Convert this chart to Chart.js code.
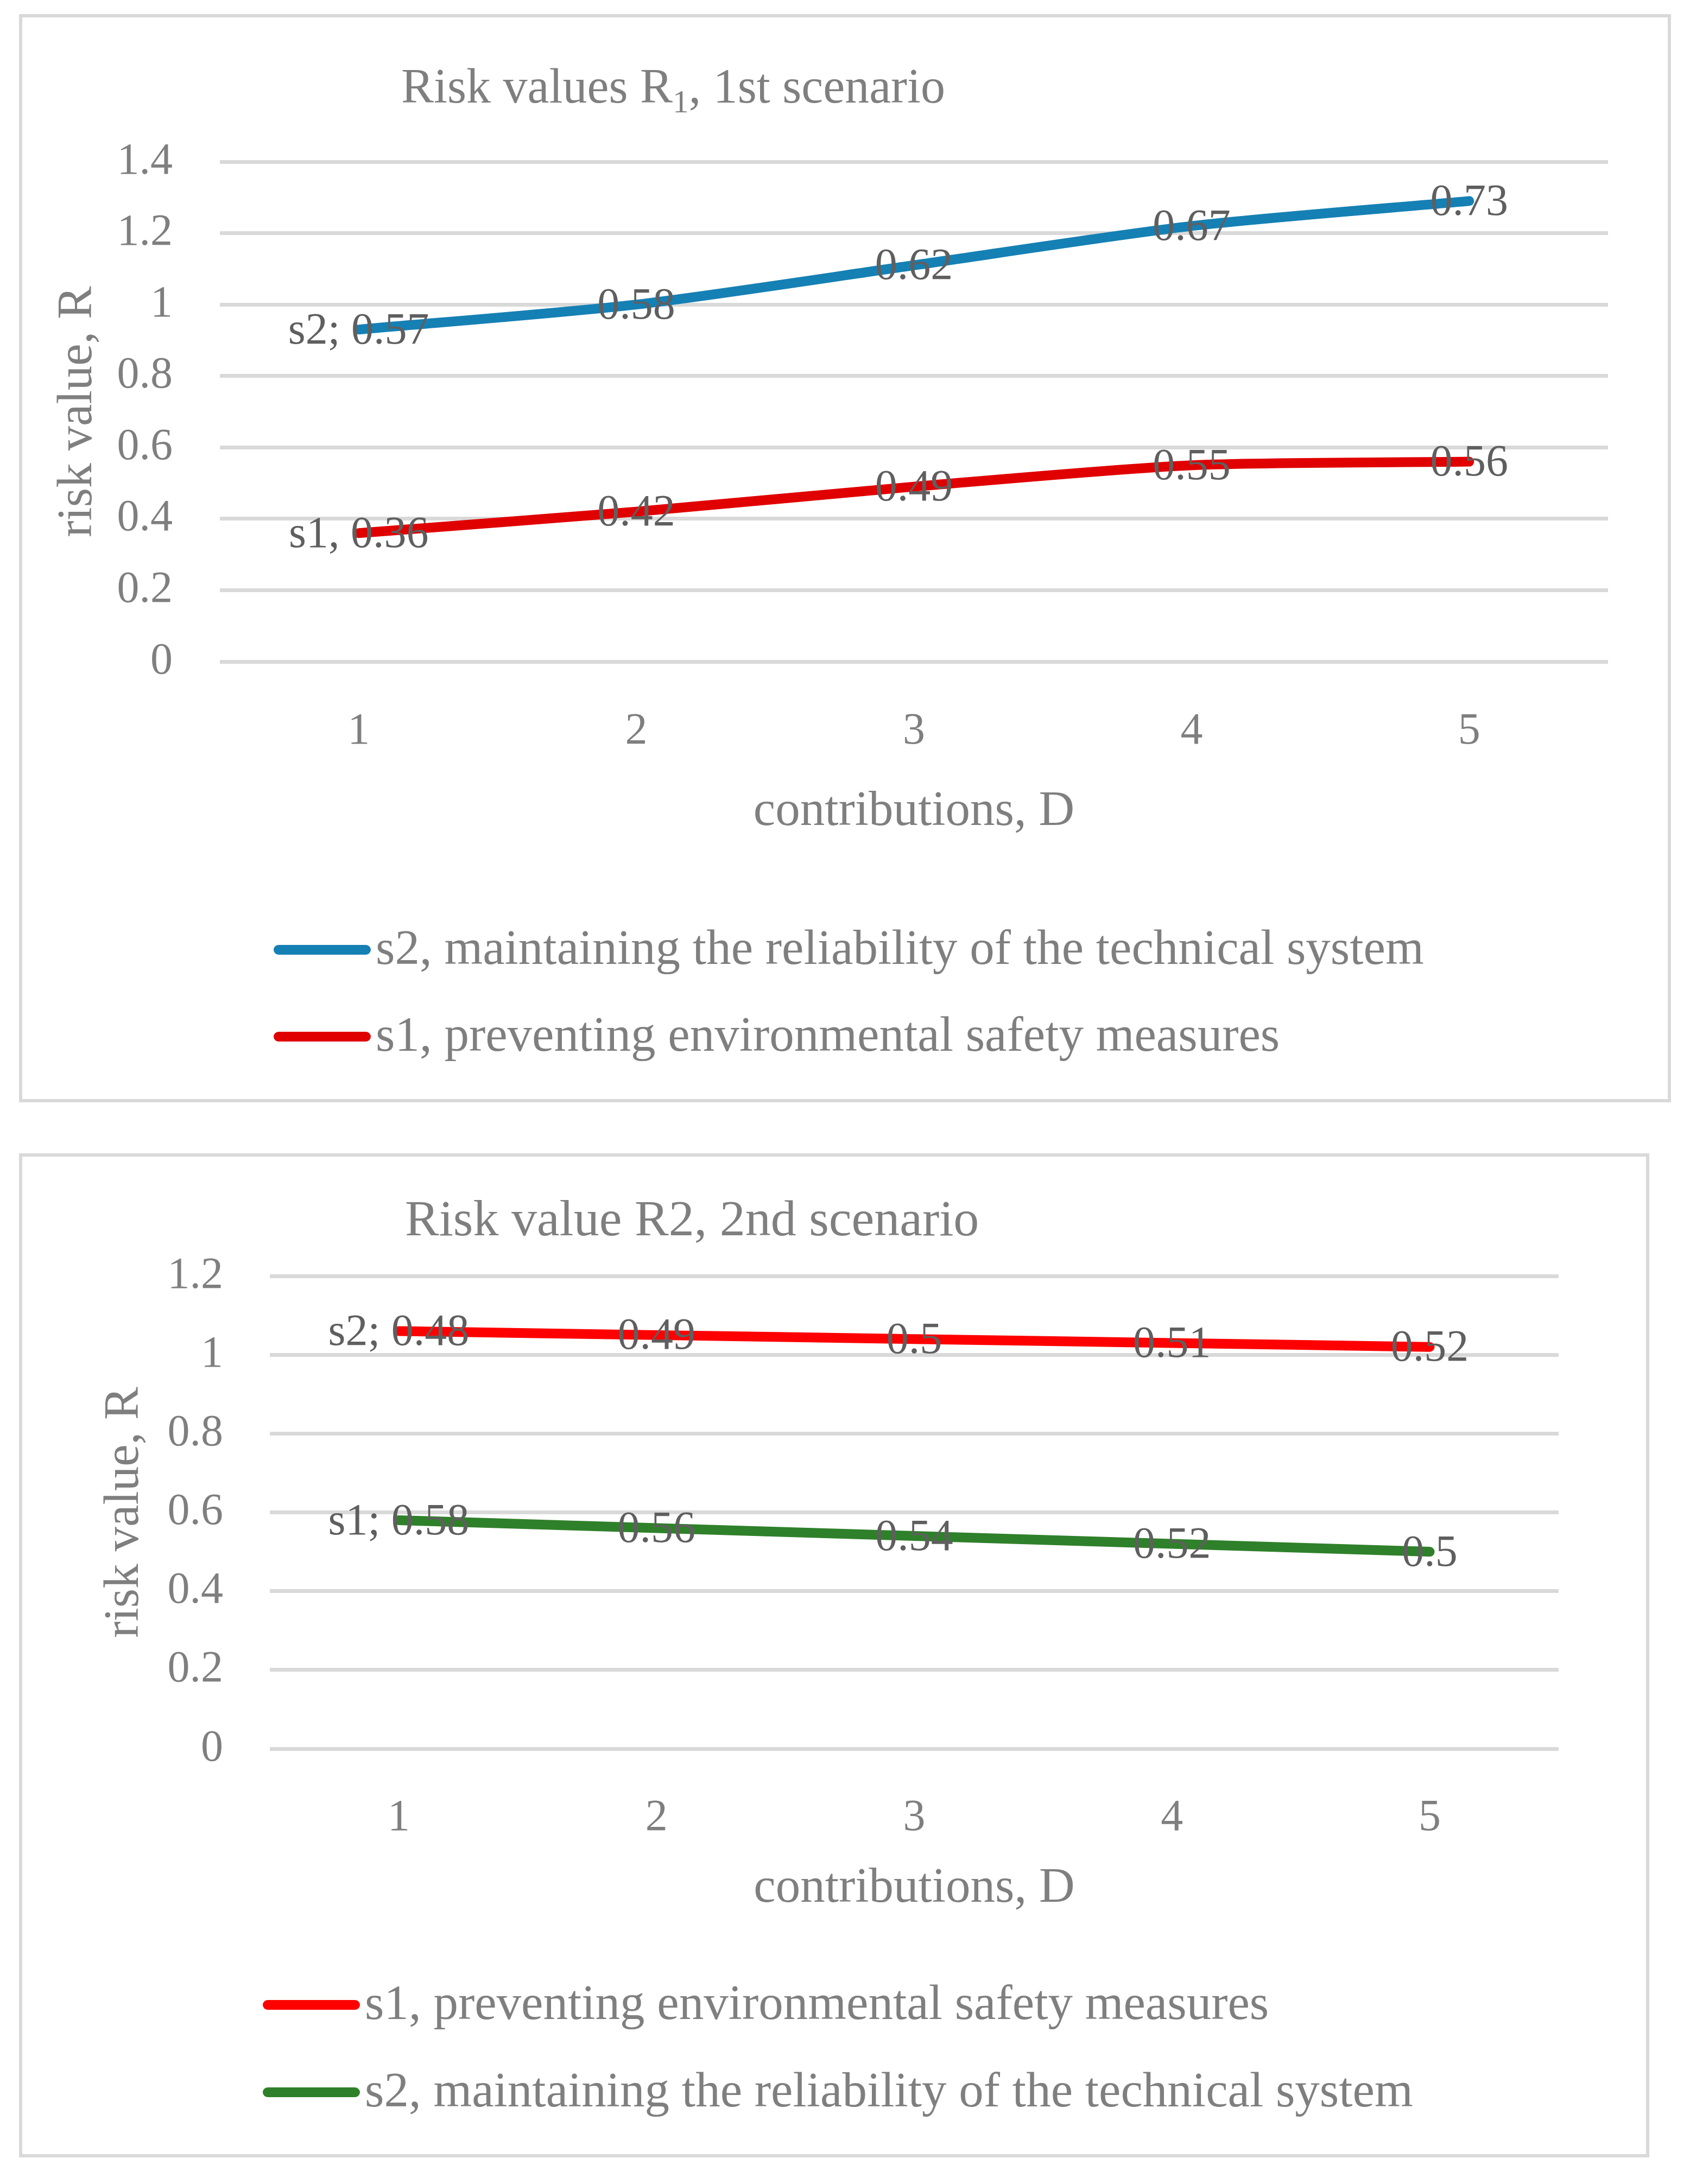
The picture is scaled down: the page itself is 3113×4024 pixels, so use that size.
<!DOCTYPE html>
<html>
<head>
<meta charset="utf-8">
<title>Risk values</title>
<script src="https://cdn.jsdelivr.net/npm/chart.js@4.4.1/dist/chart.umd.min.js"></script>
<style>
  html, body { margin: 0; padding: 0; background: #fff; }
  body { width: 3113px; height: 4024px; position: relative; }
  .box { position: absolute; border: 6px solid #d9d9d9; background: #fff; }
  .box canvas { display: block; }
</style>
</head>
<body>
<div class="box" style="left:35px;top:26px;width:3031px;height:1993px;">
  <canvas id="chart1" width="3031" height="1993"></canvas>
</div>
<div class="box" style="left:35px;top:2125px;width:2991px;height:1838px;">
  <canvas id="chart2" width="2991" height="1838"></canvas>
</div>
<script>
// ---- data ----
var categories = ["1", "2", "3", "4", "5"];

// 1st scenario (stacked: s2 sits on top of s1)
var sc1_s1 = [0.36, 0.42, 0.49, 0.55, 0.56];
var sc1_s2 = [0.57, 0.58, 0.62, 0.67, 0.73];
var sc1_yTicks = [0, 0.2, 0.4, 0.6, 0.8, 1, 1.2, 1.4];

// 2nd scenario (stacked: red sits on top of green)
var sc2_green = [0.58, 0.56, 0.54, 0.52, 0.5];
var sc2_red = [0.48, 0.49, 0.5, 0.51, 0.52];
var sc2_yTicks = [0, 0.2, 0.4, 0.6, 0.8, 1, 1.2];

var FONT = "'Liberation Serif', 'Times New Roman', serif";
var GREY = '#7f7f7f';
var LABEL_SIZE = 91; // axis titles + legend

// value labels centred on each point, first one carries the series prefix
var pointLabels = {
  id: 'pointLabels',
  afterDatasetsDraw: function(chart, args, opts) {
    var ctx = chart.ctx;
    ctx.save();
    ctx.font = opts.size + 'px ' + FONT;
    ctx.fillStyle = opts.color;
    ctx.textAlign = 'center';
    ctx.textBaseline = 'middle';
    chart.data.datasets.forEach(function(ds, di) {
      var meta = chart.getDatasetMeta(di);
      meta.data.forEach(function(pt, i) {
        var txt = String(ds.data[i]);
        if (i === 0) txt = ds.firstPrefix + txt;
        ctx.fillText(txt, pt.x, pt.y + opts.dy);
      });
    });
    ctx.restore();
  }
};

// title (with optional subscript) and the stacked legend, Excel style
var frame = {
  id: 'frame',
  afterDraw: function(chart, args, opts) {
    var ctx = chart.ctx;
    ctx.save();
    ctx.fillStyle = GREY;
    ctx.textBaseline = 'alphabetic';
    ctx.textAlign = 'left';
    var x = opts.titleX;
    opts.title.forEach(function(p) {
      var size = p.sub ? opts.titleSize * 0.66 : opts.titleSize;
      ctx.font = size + 'px ' + FONT;
      ctx.fillText(p.t, x, opts.titleY + (p.sub ? opts.titleSize * 0.2 : 0));
      x += ctx.measureText(p.t).width;
    });

    var sets = chart.data.datasets.slice().reverse();
    ctx.font = LABEL_SIZE + 'px ' + FONT;
    ctx.textBaseline = 'middle';
    sets.forEach(function(ds, i) {
      var y = opts.legendRows[i];
      ctx.strokeStyle = ds.borderColor;
      ctx.lineWidth = ds.borderWidth;
      ctx.lineCap = 'round';
      ctx.beginPath();
      ctx.moveTo(opts.legendLine[0], y);
      ctx.lineTo(opts.legendLine[1], y);
      ctx.stroke();
      ctx.fillStyle = GREY;
      ctx.fillText(ds.label, opts.legendTextX, y + 2);
    });
    ctx.restore();
  }
};

function line(label, data, color, prefix) {
  return {
    label: label,
    data: data,
    borderColor: color,
    backgroundColor: color,
    borderWidth: 18,
    borderCapStyle: 'round',
    borderJoinStyle: 'round',
    pointRadius: 0,
    pointHoverRadius: 0,
    tension: 0.25,
    fill: false,
    firstPrefix: prefix
  };
}

function makeChart(id, datasets, yTicks, L) {
  return new Chart(document.getElementById(id), {
    type: 'line',
    data: { labels: categories, datasets: datasets },
    plugins: [pointLabels, frame],
    options: {
      responsive: false,
      devicePixelRatio: 1,
      animation: false,
      layout: { padding: { left: L.padLeft, top: L.top, right: L.padRight, bottom: L.padBottom } },
      plugins: {
        legend: { display: false },
        title: { display: false },
        tooltip: { enabled: false },
        pointLabels: { size: 82, color: '#5f5f5f', dy: 4 },
        frame: L.frame
      },
      scales: {
        x: {
          offset: true,
          grid: { display: false },
          border: { display: false },
          ticks: { color: GREY, font: { family: FONT, size: 82 }, padding: L.xTickPad, maxRotation: 0, autoSkip: false },
          title: { display: true, text: 'contributions, D', color: GREY, font: { family: FONT, size: LABEL_SIZE }, padding: { top: 0, bottom: 0 } },
          afterFit: function(s) { s.height = L.xHeight; }
        },
        y: {
          stacked: true,
          min: yTicks[0],
          max: yTicks[yTicks.length - 1],
          afterBuildTicks: function(s) { s.ticks = yTicks.map(function(v) { return { value: v }; }); },
          grid: { color: '#d9d9d9', lineWidth: 7, drawTicks: false },
          border: { display: false },
          ticks: {
            color: GREY, font: { family: FONT, size: 82 }, padding: L.yTickPad,
            callback: function(v) { return String(+v.toFixed(1)); }
          },
          title: { display: true, text: 'risk value, R', color: GREY, font: { family: FONT, size: LABEL_SIZE }, padding: { top: L.yTitlePad, bottom: 0 } },
          afterFit: function(s) { s.width = L.yWidth; }
        }
      }
    }
  });
}

makeChart('chart1', [
  line('s1, preventing environmental safety measures', sc1_s1, '#e00000', 's1, '),
  line('s2, maintaining the reliability of the technical system', sc1_s2, '#1580b4', 's2; ')
], sc1_yTicks, {
  padLeft: 40, top: 266, padRight: 110, padBottom: 474,
  yWidth: 324, yTickPad: 87, yTitlePad: 8,
  xHeight: 332, xTickPad: 72,
  frame: {
    title: [{ t: 'Risk values R' }, { t: '1', sub: true }, { t: ', 1st scenario' }],
    titleX: 698, titleY: 157, titleSize: 90,
    legendRows: [1718, 1878], legendLine: [472, 633], legendTextX: 651
  }
});

makeChart('chart2', [
  line('s2, maintaining the reliability of the technical system', sc2_green, '#2f802a', 's1; '),
  line('s1, preventing environmental safety measures', sc2_red, '#ff0000', 's2; ')
], sc2_yTicks, {
  padLeft: 40, top: 220, padRight: 161, padBottom: 434,
  yWidth: 416, yTickPad: 86, yTitlePad: 94,
  xHeight: 313, xTickPad: 71,
  frame: {
    title: [{ t: 'Risk value R2, 2nd scenario' }],
    titleX: 705, titleY: 145, titleSize: 94,
    legendRows: [1563, 1724], legendLine: [452, 613], legendTextX: 631
  }
});
</script>
</body>
</html>
